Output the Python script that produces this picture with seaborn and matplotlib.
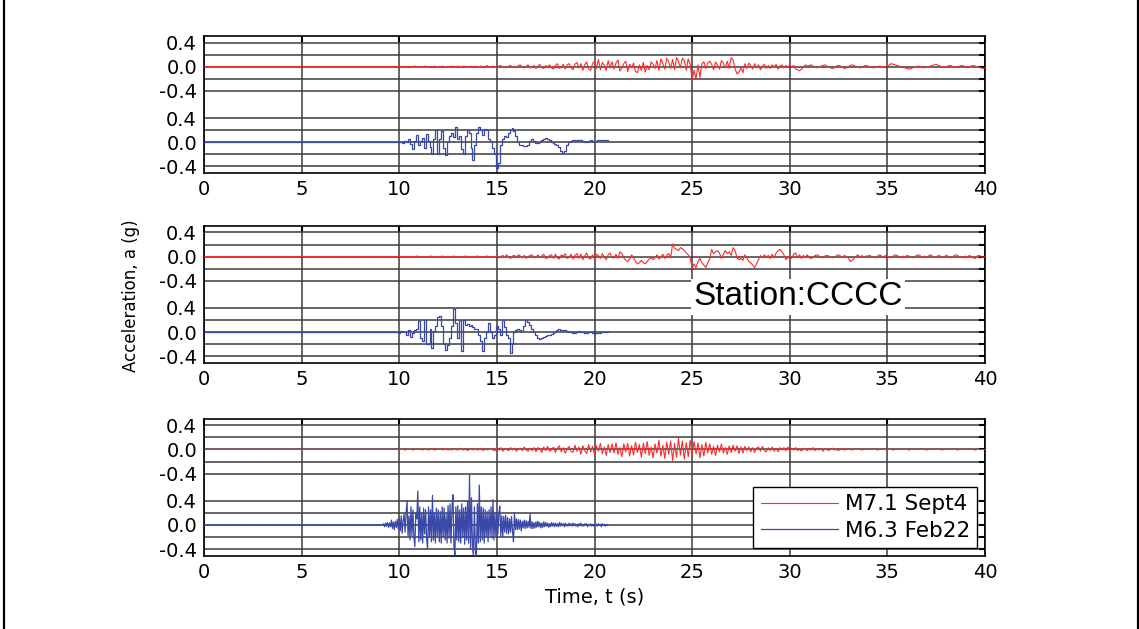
import numpy as np
import pandas as pd
import seaborn as sns
import matplotlib.pyplot as plt
from matplotlib.lines import Line2D

# Config:
OUT = "out.png"
DT = 0.1          # s, sampling used when reading the traces off the figure
DT_FINE = 0.05    # s, for the dense Feb22 record of the bottom station
STACK = -1.25     # vertical offset of the Feb22 trace inside each panel
RED = "#ff2a2a"
BLUE = "#3a48a8"
GRID = "#3c3c3c"

labels = ["M7.1 Sept4", "M6.3 Feb22"]
x_ticks = [0, 5, 10, 15, 20, 25, 30, 35, 40]
y_tick_text = ["0.4", "0.0", "-0.4", "0.4", "0.0", "-0.4"]
station = "Station:CCCC"

# Acceleration records, hundredths of g
sept4_1_start = 10.0
sept4_1 = [
    0, 0, 0, 0, 0, 0, 0, 0, 1, 0,
    0, -1, 0, 1, 0, 0, -1, 0, 1, 0,
    -1, 0, 1, 0, -1, 0, 0, 1, -1, 0,
    1, 0, -1, 1, 0, -1, -1, 1, 0, 1,
    -1, 0, 1, -1, 0, 2, -1, 0, 1, -1,
    -2, 1, 2, -1, 0, -2, 1, 2, -1, 1,
    -2, 2, 3, -1, -2, 1, 3, -2, -1, 2,
    -3, 1, 4, -2, -3, 2, -1, 3, -2, -4,
    2, 5, -3, -1, 4, -4, 3, 5, -2, -5,
    4, 7, -2, 5, -6, 3, 8, -4, -6, 5,
    9, -3, 12, -5, 7, 2, -6, 10, -2, 8,
    -4, 6, 11, -7, -3, 5, 9, -8, 4, -2,
    6, -8, -10, 3, -6, 7, -9, 2, -5, 8,
    4, -3, 10, -6, 13, 5, -4, 14, 8, -3,
    12, -5, 15, 9, -2, 14, 10, -6, 13, 4,
    -22, -6, -20, 3, -18, 5, 8, -3, 6, 9,
    4, -5, 8, 2, -4, 10, 6, -2, 9, -3,
    15, 11, -4, -12, -9, -2, -10, 5, -3, 6,
    2, -4, 5, -2, 3, -5, 1, 4, -3, 2,
    -3, 3, -1, 4, -4, 1, 3, -2, 2, -1,
    3, -1, 2, -4, -5, -7, -4, -1, 3, 1,
    2, 3, 1, -1, -2, -1, 1, 2, 3, 1,
    -1, -2, -3, -1, 1, 2, 1, -1, -3, -2,
    0, 2, 3, 2, 0, -1, -2, -1, 1, 2,
    1, 0, -1, -2, -1, 0, 1, 0, -1, 0,
    1, 3, 5, 4, 3, 2, 1, 0, -1, -2,
    -3, -4, -3, -2, -1, 0, 1, 0, -1, -2,
    -1, 0, 1, 2, 3, 4, 2, 1, 0, -1,
    0, 1, 2, 1, 0, -1, 0, 1, 2, 1,
    0, -1, 0, 1, 2, 1, 0, -1, -2, -3,
    -2,
]
feb22_1_start = 10.0
feb22_1 = [
    0, 1, -2, 2, 0, 5, -3, -12, 2, 12,
    -5, 2, 7, -10, 14, 2, -8, -20, 5, 20,
    -20, 5, 19, -10, -22, 0, 10, 15, 8, 25,
    5, 10, -12, -20, 10, 20, 15, -10, -30, -5,
    15, 25, 20, 12, 22, 20, 5, 2, -10, -20,
    -42, -35, -5, 5, 10, 8, 15, 20, 23, 18,
    10, 0, -4, -5, -6, -7, -4, 2, 5, 2,
    -2, -2, 0, 3, 6, 7, 5, 3, 0, -1,
    -3, -5, -8, -14, -18, -15, -5, 0, 2, 3,
    4, 4, 3, 3, 2, 1, 1, 2, 3, 2,
    1, 2, 3, 4, 3, 4, 4, 4,
]

sept4_2_start = 10.0
sept4_2 = [
    0, 0, 0, 0, 0, 0, 0, 0, 0, 1,
    0, 0, 0, -1, 0, 0, 1, 0, 0, -1,
    0, 0, 1, 0, 0, -1, 0, 0, 1, 0,
    0, -1, 0, 0, 1, 0, 0, -1, 0, 0,
    1, 0, 0, -1, 0, 1, 0, 0, -1, 0,
    1, -2, 0, 2, -1, 3, -1, -3, 1, 2,
    -1, 3, 1, -2, 2, -3, 0, 2, 3, -1,
    -2, 3, -1, 1, 4, -3, -2, 2, 3, -3,
    4, -2, -4, 3, 1, 5, -3, -1, 4, -4,
    2, 5, -3, 4, -5, 1, 6, -2, -4, 3,
    -5, 4, 2, -3, 5, -1, -5, 3, 6, -2,
    -2, 4, -3, 8, 5, -2, -6, -8, -4, 3,
    -2, -8, -12, -10, -6, -10, -12, -8, -4, -2,
    -5, -2, 3, -4, -1, 4, -3, 2, 5, -2,
    21, 14, 12, 10, 15, 13, 10, 6, 3, -2,
    -20, -12, -18, -8, -3, -10, -14, -18, -10, -4,
    12, 5, 8, 10, 6, -3, 4, 10, 5, 8,
    2, 15, 10, -2, -5, -3, -6, 3, -2, -8,
    -10, -14, -18, -12, -5, 2, -2, 3, -1, 2,
    -3, 4, -2, 6, 10, 12, 8, 3, -5, -2,
    2, -3, 4, 6, -2, 3, -3, 2, -1, 3,
    -2, -3, -1, 2, 3, 1, -1, -2, 1, 2,
    1, -1, -2, -1, 2, 3, 1, -1, 2, 0,
    -2, -8, -6, -3, 1, 3, -1, 2, -2, 1,
    1, 2, 0, -1, -2, 1, 3, 1, -1, 2,
    0, -1, -2, 1, 3, 2, 0, -2, 1, -1,
    2, 1, -1, -2, 0, 2, 3, 1, -2, 1,
    -1, 1, 3, 1, -1, -2, 2, 1, 0, -1,
    2, 1, -1, -2, 1, 3, 2, -1, 0, -2,
    1, -1, 2, 0, -2, -3, 1, 2, 0, -1,
    0,
]
feb22_2_start = 9.8
feb22_2 = [
    0, 1, -1, 2, 0, 1, -5, 3, -8, -2,
    4, 5, 18, -10, -14, 20, -20, -20, 5, -27,
    2, 10, 25, 27, 10, -20, -30, -22, -10, 10,
    38, 15, -10, 20, -32, 20, 12, 14, 10, 12,
    8, 6, 5, -5, -15, -32, -10, 0, 15, 0,
    -10, -5, 10, 5, -5, 20, 8, -5, -10, -35,
    -20, 0, 3, 5, 4, 2, 10, 20, 16, 12,
    6, 0, -5, -10, -12, -10, -8, -6, -5, -4,
    -3, -1, 1, 3, 5, 4, 4, 3, 2, 1,
    0, -1, -2, 0, 2, 1, 0, -1, -1, 0,
    0, -1, -3, -2, -2, -1, 0, 0, 0, 0,
]

sept4_3_start = 10.0
sept4_3 = [
    0, 1, 0, -1, 0, 0, 1, -1, 0, 0,
    1, 0, -1, 1, 0, -1, 0, 1, -1, 0,
    0, 1, -1, 0, 2, -1, 0, -1, 1, 0,
    -1, 2, 0, -1, 1, -2, 1, 0, -1, 2,
    -1, 0, 2, -2, 1, -1, 0, 2, -1, -2,
    2, -1, 3, -3, 1, 0, -2, 3, -1, 2,
    -3, 1, 2, -2, 4, -1, -3, 2, -2, 3,
    -4, 3, 1, -5, 4, -2, 5, -3, -1, 4,
    -5, 2, 6, -4, 3, -6, 1, 5, -3, -5,
    7, -3, 4, -8, 6, -2, -7, 8, -4, 5,
    -9, 6, -3, 10, -7, 4, -10, 8, -5, 9,
    -6, 11, -8, 3, -12, 9, -4, 10, -11, 6,
    -9, 12, -5, 8, -13, 10, -7, 13, -10, 4,
    -14, 9, -6, 15, -11, 7, -15, 12, -8, 14,
    -18, 10, -13, 18, -9, 14, -16, 11, -12, 15,
    -10, 13, -7, 11, -14, 8, -11, 12, -6, 9,
    -8, 5, -10, 7, -4, 9, -6, 3, -8, 6,
    -5, 7, -3, 6, -7, 4, -6, 5, -2, 4,
    -4, 3, -5, 2, 4, -3, 5, -2, -4, 3,
    -2, 4, -3, 1, -4, 3, -1, 3, -2, 4,
    -3, 2, -1, 3, -2, 1, -3, 2, 0, -2,
    2, -1, 3, -2, 1, -1, 2, -3, 1, 0,
    -2, 1, 2, -1, 0, -2, 1, 1, -1, 0,
    1, 0, -1, 0, 0, 1, 0, -1, 0, 0,
    0, 0, 1, 0, 0, -1, 0, 0, 0, 1,
    0, 0, 0, -1, 0, 0, 0, 1, 0, 0,
    0, -1, 0, 0, 0, 0, 1, 0, 0, 0,
    -1, 0, 0, 0, 1, 0, 0, 0, -1, 0,
    0, 0, 1, 0, 0, 0, -1, 0, 0, 0,
    0, 1, 0, 0, 0, -1, 0, 0, 0, 0,
    0,
]
feb22_3_start = 9.15
feb22_3 = [
    0, 2, -3, 3, -2, 4, -4, 3, -3, 8, -6, 5, -8, 6, -4, 9, -7,
    12, -10, 15, -14, 8, 18, -12, 20, 40, -20, 15, -25, 30, -18, 25, -20, -36, 20, 10, 56,
    -28, 30, -25, 20, -30, 28, -15, 25, -22, -38, 30, -20, 25, -28, 49, -25, 20, -30, 28, -18,
    25, -28, 22, -30, 30, -20, 28, -25, 18, -30, 32, -22, 35, -30, 28, 50, -35, -50, 30, -25,
    32, -28, 25, -30, 35, -20, 28, -32, 30, -25, 40, -30, 83, -40, 45, -35, -50, 30, -40, -55,
    35, -30, 66, -28, 30, -25, 28, -30, 25, -20, 22, -28, 25, -18, 30, -22, 42, -25, 20, -18,
    20, -15, 18, 31, -18, 15, -20, 14, -12, 16, -14, 12, -15, 10, -12, 14, -10, -28, 20, -8,
    10, -8, 9, -7, 8, -10, 6, -5, 8, -6, 7, -5, 6, -4, 18, -6, 5, -6, 4, -5,
    5, -4, 6, -3, 4, -5, 3, -4, 5, -3, 4, -2, 3, -4, 2, -3, 4, -2, 3, -3,
    3, -2, 2, -3, 4, -2, 3, -1, 2, -3, 3, -2, 1, -2, 3, -1, 2, -2, 3, -1,
    2, -2, 1, -3, 2, -1, 3, -2, 1, -2, 2, -1, 2, -3, 1, -1, 2, -2, 1, -2,
    2, -1, 1, -2, 2, -1, 1, -3, 2, -1, 1, -2, 1, -1, 0,
]


def record(start, dt, values, offset=0.0):
    # quiet (zero) record from t = 0 until the first digitised sample
    t = np.concatenate([[0.0], start + dt * np.arange(len(values))])
    a = np.concatenate([[0.0], np.asarray(values) / 100.0]) + offset
    return pd.DataFrame({"t": t, "a": a})


# (Sept4 record, Feb22 record, drawstyle of the Feb22 trace)
panels = [
    (record(sept4_1_start, DT, sept4_1), record(feb22_1_start, DT, feb22_1, STACK), "steps-mid"),
    (record(sept4_2_start, DT, sept4_2), record(feb22_2_start, DT, feb22_2, STACK), "steps-mid"),
    (record(sept4_3_start, DT, sept4_3), record(feb22_3_start, DT_FINE, feb22_3, STACK), "default"),
]

sns.set_style("white")
plt.rcParams["font.family"] = ["DejaVu Sans"]
plt.rcParams["text.color"] = "black"

fig = plt.figure(figsize=(11.39, 6.29), dpi=100)
bottoms = [0.725, 0.423, 0.1165]
major_y = [0.4, 0.0, -0.4, 0.4 + STACK, STACK, -0.4 + STACK]
minor_y = [0.2, -0.2, 0.2 + STACK, -0.2 + STACK]

axes = []
for (df_red, df_blue, style), b in zip(panels, bottoms):
    ax = fig.add_axes([0.1791, b, 0.6857, 0.217])
    sns.lineplot(data=df_red, x="t", y="a", ax=ax, color=RED, lw=0.8,
                 estimator=None, sort=False, label=labels[0], zorder=3)
    sns.lineplot(data=df_blue, x="t", y="a", ax=ax, color=BLUE, lw=0.9,
                 estimator=None, sort=False, drawstyle=style, label=labels[1], zorder=3)
    ax.set_xlim(0, 40)
    ax.set_ylim(-1.76, 0.5)
    ax.set_xticks(x_ticks)
    ax.set_yticks(major_y)
    ax.set_yticklabels(y_tick_text)
    ax.set_yticks(minor_y, minor=True)
    ax.grid(True, which="major", color=GRID, lw=1.1)
    ax.grid(True, which="minor", axis="y", color=GRID, lw=1.1)
    ax.tick_params(which="both", direction="in", top=True, right=True,
                   length=4, width=1.5, color="black", labelcolor="black",
                   labelsize=14, pad=5)
    for sp in ax.spines.values():
        sp.set_color("black")
        sp.set_linewidth(1.2)
    ax.set_xlabel("")
    ax.set_ylabel("")
    if ax.get_legend() is not None:
        ax.get_legend().remove()
    axes.append(ax)

axes[2].set_xlabel("Time, t (s)", fontsize=14, labelpad=4, color="black")
fig.text(131 / 1139, 1 - 296 / 629, "Acceleration, a (g)", rotation=90,
         ha="center", va="center", fontsize=12)

axes[1].text(0.7606, 0.484, station, transform=axes[1].transAxes, fontsize=24,
             family=["Liberation Sans", "DejaVu Sans"],
             ha="center", va="center", zorder=5,
             bbox=dict(facecolor="white", edgecolor="none", pad=2))

leg = axes[2].legend(loc="lower right", frameon=True, fancybox=False, edgecolor="black",
                     framealpha=1, fontsize=15.5, handlelength=3.6, handletextpad=0.3,
                     borderaxespad=0.35, labelspacing=0.3, borderpad=0.35)
leg.get_frame().set_linewidth(1.0)
leg.set_zorder(6)

# page border (left and right rules of the scanned figure)
fig.add_artist(Line2D([0.0032, 0.0032], [0, 1], transform=fig.transFigure, color="black", lw=1.6))
fig.add_artist(Line2D([0.9988, 0.9988], [0, 1], transform=fig.transFigure, color="black", lw=1.6))

fig.savefig(OUT, dpi=100)
